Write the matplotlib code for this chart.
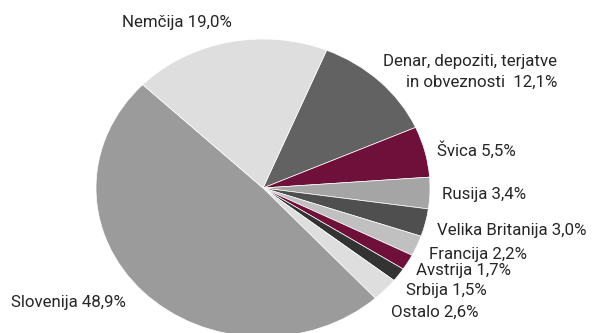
import matplotlib.pyplot as plt

# shares in percent, clockwise from the top
labels = ["Denar, depoziti, terjatve\nin obveznosti  12,1%", "Švica 5,5%", "Rusija 3,4%",
          "Velika Britanija 3,0%", "Francija 2,2%", "Avstrija 1,7%", "Srbija 1,5%",
          "Ostalo 2,6%", "Slovenija 48,9%", "Nemčija 19,0%"]
shares = [12.1, 5.5, 3.4, 3.0, 2.2, 1.7, 1.5, 2.6, 48.9, 19.0]

colors = ["#626262", "#6e1039", "#a5a5a5", "#4f4f4f", "#c0c0c0",
          "#6e1039", "#333333", "#dedede", "#9b9b9b", "#dedede"]

# label anchors in pixels (left edge / right edge for the first one, vertical centre)
label_px = [(557, 72), (437, 150), (442, 195), (437, 230), (429, 255),
            (416, 270), (406, 291), (391, 312), (11, 302), (122, 22)]

W, H = 593, 333
fig = plt.figure(figsize=(W / 100, H / 100), dpi=100)
ax = fig.add_axes([0, 0, 1, 1])

ax.pie(shares, colors=colors, startangle=67.6, counterclock=False,
       wedgeprops=dict(edgecolor="white", linewidth=0.5))

# slightly wider than tall, centre at (263, 188) px
ax.set_aspect("auto")
rx, ry, cx, cy = 167, 149, 263, 188
ax.set_xlim(-cx / rx, (W - cx) / rx)
ax.set_ylim((cy - H) / ry, cy / ry)
ax.axis("off")

font = ["Roboto", "DejaVu Sans"]
for i, (txt, (px, py)) in enumerate(zip(labels, label_px)):
    ha = "right" if i == 0 else "left"
    fig.text(px / W, 1 - py / H, txt, ha=ha, va="center", fontsize=12.2,
             family=font, color="#262626", multialignment="right", linespacing=1.45)

fig.savefig("out.png", dpi=100)
